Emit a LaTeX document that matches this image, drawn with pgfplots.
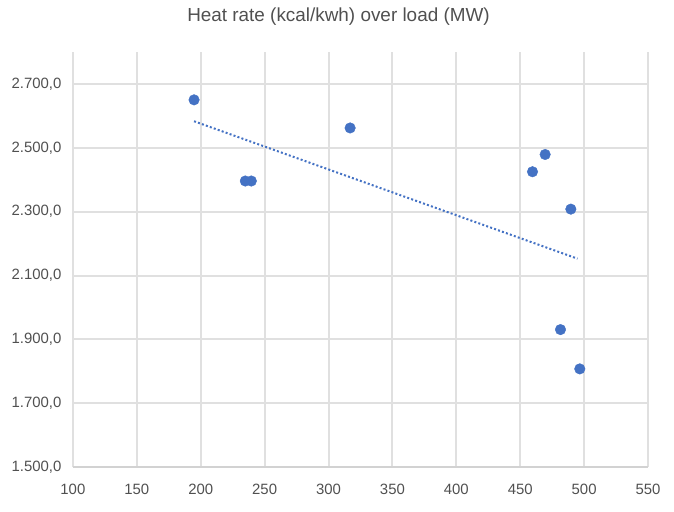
\documentclass[border=0pt]{standalone}
\usepackage{pgfplots}
\pgfplotsset{compat=1.18}
\usepackage{fontspec}
\setmainfont{Liberation Sans}
\definecolor{ptblue}{HTML}{4472C4}
\definecolor{gridgray}{HTML}{E0E0E0}
\definecolor{txtgray}{HTML}{505050}
\begin{document}
\begin{tikzpicture}
\begin{axis}[
  scale only axis,
  width=576bp, height=416bp,
  xmin=100, xmax=550, ymin=1500, ymax=2800,
  xtick={100,150,200,250,300,350,400,450,500,550},
  ytick={1500,1700,1900,2100,2300,2500,2700},
  xmajorgrids, ymajorgrids,
  major grid style={draw=gridgray, line width=2bp},
  axis line style={draw=none},
  tick style={draw=none},
  tick label style={font=\fontsize{15}{17}\selectfont, text=txtgray},
  /pgf/number format/assume math mode=true,
  yticklabel style={/pgf/number format/.cd, fixed, fixed zerofill, precision=1, 1000 sep={.}, use comma},
  xticklabel style={/pgf/number format/.cd, fixed, 1000 sep={}},
  xticklabel shift=13bp,
  yticklabel shift=8bp,
  clip=false,
]
\draw[gridgray!85!gray, line width=2bp] (axis cs:100,1500) -- (axis cs:550,1500);
\addplot[only marks, mark=*, mark size=5.3bp, color=ptblue, mark options={draw=ptblue, fill=ptblue}] coordinates {
(194.8,2650) (234.9,2396) (239.6,2396) (316.9,2562) (459.6,2425) (469.5,2479) (489.6,2308) (481.5,1931) (496.6,1808)
};
\addplot[ptblue, line width=2bp, dash pattern=on 2bp off 2.2bp] coordinates {(194.8,2583) (494.8,2153)};
\end{axis}
\pgfresetboundingbox
\path ([xshift=-73bp,yshift=-44bp]current axis.south west) rectangle ([xshift=26bp,yshift=52bp]current axis.north east);
\node[text=txtgray, font=\fontsize{19}{22}\selectfont] at ([xshift=-22bp,yshift=35bp]current axis.north) {Heat rate (kcal/kwh) over load (MW)};
\end{tikzpicture}
\end{document}
